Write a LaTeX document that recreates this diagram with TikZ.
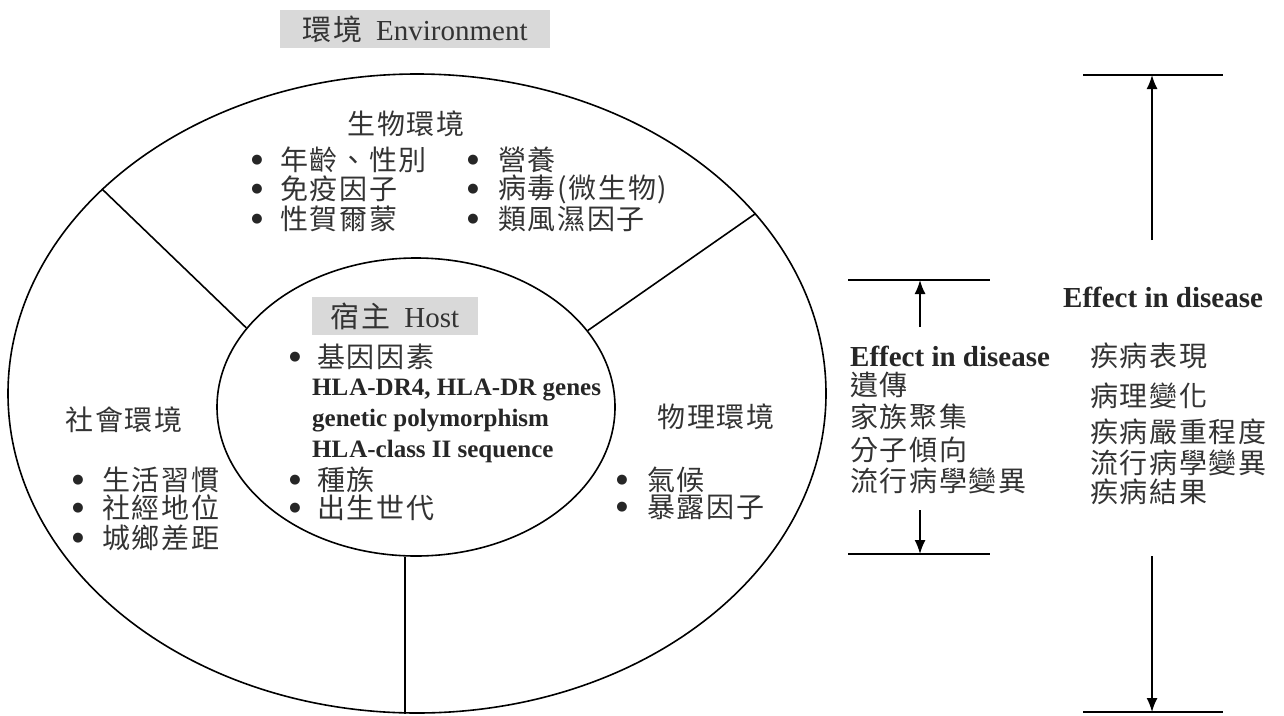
\documentclass[tikz,border=0pt]{standalone}
\usepackage{fontspec}
\setmainfont{Liberation Serif}
\newfontfamily\cjk[LetterSpace=6]{Noto Sans CJK TC}
\newfontfamily\dvs{DejaVu Sans}
\usetikzlibrary{shapes.geometric,arrows.meta}
\definecolor{txt}{HTML}{333333}
\definecolor{boxgray}{HTML}{D9D9D9}
\tikzset{
 cj/.style={font=\cjk\fontsize{28}{29}\selectfont, text=txt, inner sep=0pt, anchor=west},
 cjc/.style={cj, anchor=center},
 en/.style={font=\fontsize{29}{30}\selectfont\bfseries, text=black!85, inner sep=0pt, anchor=west},
 hla/.style={font=\fontsize{25}{26}\selectfont\bfseries, text=black!85, inner sep=0pt, anchor=west},
 bul/.style={font=\dvs\fontsize{13}{14}\selectfont, text=black!85, inner sep=0pt},
 ring/.style={ellipse, draw, line width=1.6pt, inner sep=0pt},
 lbl/.style={fill=boxgray, inner sep=0pt, text=txt, font=\fontsize{29}{30}\selectfont},
 ln/.style={line width=1.6pt},
 arr/.style={line width=1.6pt, -{Latex[length=14pt,width=11pt]}},
}
\newcommand{\bl}{●}
\begin{document}
\begin{tikzpicture}[x=1pt,y=-1pt]
\useasboundingbox (0,0) rectangle (1284,715);
% rings
\node[ring, minimum width=818pt, minimum height=639pt] (outer) at (417,393.5) {};
\node[ring, minimum width=398pt, minimum height=298pt] (inner) at (416,407) {};
\draw[ln] (inner.155.5) -- (outer.147);
\draw[ln] (inner.24.7) -- (outer.28.3);
\coordinate (bx) at (405,0);
\draw[ln] (bx |- inner.south) -- (bx |- outer.south);
% labels
\node[lbl, minimum width=270pt, minimum height=38pt] (env) at (415,29) {{\cjk 環境}\hspace{14pt}Environment};
\node[lbl, minimum width=166pt, minimum height=38pt] (host) at (395,316) {{\cjk 宿主}\hspace{14pt}Host};
% biological
\node[cjc] (bio) at (406,124) {生物環境};
\node[bul] (bo1) at (257,160) {\bl}; \node[cj] (bt1) at (280,160) {年齡、性別};
\node[bul] (bo2) at (257,189) {\bl}; \node[cj] (bt2) at (280,189) {免疫因子};
\node[bul] (bo3) at (257,219) {\bl}; \node[cj] (bt3) at (280,219) {性賀爾蒙};
\node[bul] (bo4) at (473,160) {\bl}; \node[cj] (bt4) at (498,160) {營養};
\node[bul] (bo5) at (473,189) {\bl}; \node[cj] (bt5) at (498,189) {病毒(微生物)};
\node[bul] (bo6) at (473,219) {\bl}; \node[cj] (bt6) at (498,219) {類風濕因子};
% host
\node[bul] (ho1) at (295,357) {\bl}; \node[cj] (ht1) at (317,357) {基因因素};
\node[hla] (hl1) at (312,390) {HL\kern1pt A-DR4, HL\kern1pt A-DR genes};
\node[hla] (hl2) at (312,421) {genetic polymorphism};
\node[hla] (hl3) at (312,451) {HL\kern1pt A-class II sequence};
\node[bul] (ho2) at (295,480) {\bl}; \node[cj] (ht2) at (317,480) {種族};
\node[bul] (ho3) at (295,508) {\bl}; \node[cj] (ht3) at (317,508) {出生世代};
% social
\node[cjc] (soc) at (124,420) {社會環境};
\node[bul] (so1) at (78,480) {\bl}; \node[cj] (st1) at (102,480) {生活習慣};
\node[bul] (so2) at (78,508) {\bl}; \node[cj] (st2) at (102,508) {社經地位};
\node[bul] (so3) at (78,538) {\bl}; \node[cj] (st3) at (102,538) {城鄉差距};
% physical
\node[cjc] (phy) at (716,417) {物理環境};
\node[bul] (po1) at (622,480) {\bl}; \node[cj] (pt1) at (647,480) {氣候};
\node[bul] (po2) at (622,507) {\bl}; \node[cj] (pt2) at (647,507) {暴露因子};
% middle effect
\coordinate (m1a) at (848,280); \coordinate (m1b) at (990,280);
\coordinate (m2a) at (848,554); \coordinate (m2b) at (990,554);
\draw[ln] (m1a) -- (m1b);
\draw[ln] (m2a) -- (m2b);
\coordinate (mus) at (920,327); \coordinate (mds) at (920,510);
\draw[arr] (mus) -- (mus |- m1a);
\draw[arr] (mds) -- (mds |- m2a);
\node[en] (me) at (850,356) {Effect in disease};
\node[cj] (mt1) at (850,385) {遺傳};
\node[cj] (mt2) at (850,417) {家族聚集};
\node[cj] (mt3) at (850,450) {分子傾向};
\node[cj] (mt4) at (850,481) {流行病學變異};
% right effect
\coordinate (r1a) at (1083,75); \coordinate (r1b) at (1223,75);
\coordinate (r2a) at (1083,712); \coordinate (r2b) at (1223,712);
\draw[ln] (r1a) -- (r1b);
\draw[ln] (r2a) -- (r2b);
\coordinate (rus) at (1152,240); \coordinate (rds) at (1152,556);
\draw[arr] (rus) -- (rus |- r1a);
\draw[arr] (rds) -- (rds |- r2a);
\node[en] (re) at (1063,297) {Effect in disease};
\node[cj] (rt1) at (1090,356) {疾病表現};
\node[cj] (rt2) at (1090,396) {病理變化};
\node[cj] (rt3) at (1090,432) {疾病嚴重程度};
\node[cj] (rt4) at (1090,463) {流行病學變異};
\node[cj] (rt5) at (1090,492) {疾病結果};
\end{tikzpicture}
\end{document}
